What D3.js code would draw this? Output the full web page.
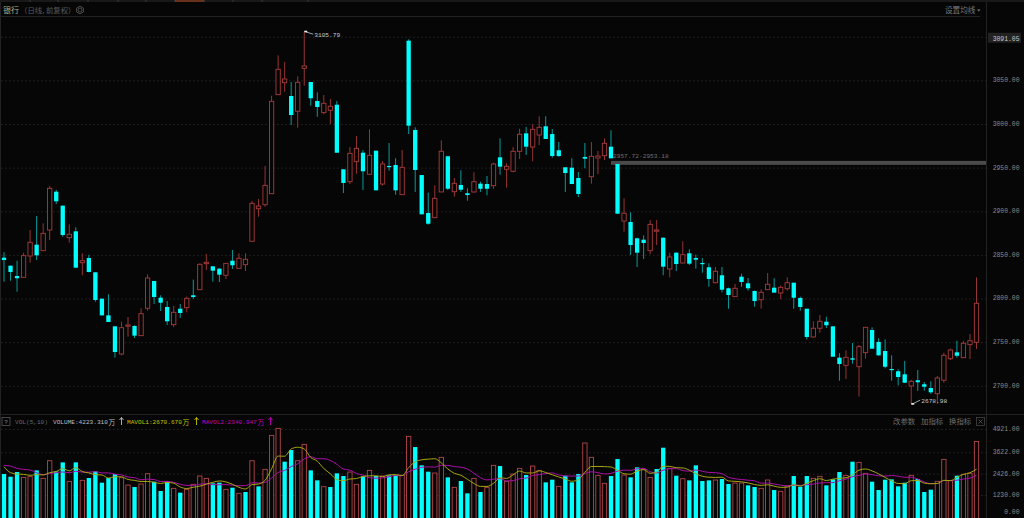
<!DOCTYPE html>
<html><head><meta charset="utf-8">
<script src="https://cdn.jsdelivr.net/npm/d3@7/dist/d3.min.js"></script>
<style>
html,body{margin:0;padding:0;background:#060606;overflow:hidden}
svg{display:block}
text{font-family:"Liberation Mono","DejaVu Sans Mono","Noto Sans CJK SC",monospace}
.cjk{font-family:"Noto Sans CJK SC",sans-serif}
</style></head><body>
<svg id="c" width="1024" height="518"></svg>
<script>
const opens=[2846.8,2837.6,2825.8,2824.3,2848.7,2861.7,2854.8,2878.5,2922.4,2906.4,2869.7,2877,2841,2846.4,2830,2799.8,2780.7,2768.1,2736.4,2768.8,2768.5,2757.4,2788.8,2820.1,2800.9,2790.3,2770,2788.3,2789.5,2803.7,2810.1,2839.9,2836.9,2834.2,2826.6,2843.3,2834.6,2838.7,2865.6,2902.9,2907.5,2920.1,3033.6,3047.3,3032.1,3014.6,3063.8,3048.1,3026.4,3013,3015.7,3022.1,2948.1,2933.9,2956.8,2967.1,2942.4,2969.4,2931.2,2951.9,2953,2919,3095.5,2993.1,2941.5,2898,2892.6,2922.1,2963,2922.4,2930.1,2920.6,2922.1,2931.6,2931.2,2929.3,2961.8,2948.1,2945.8,2968.7,2989.3,2973.6,2987.4,2997.4,2988.5,2969.9,2950.4,2949.9,2938.1,2962.2,2939.6,2961,2963.7,2974,2954.2,2888.8,2887.7,2869,2867.4,2854.8,2877.7,2869.7,2833.8,2852.5,2840.7,2851.8,2846.4,2840.7,2835.8,2818.1,2826.6,2811.7,2802.1,2825,2817.4,2808.6,2798.6,2810.1,2812.4,2806.3,2811.2,2818.1,2800.6,2788.3,2755.9,2765.9,2773.4,2768.1,2732.2,2723.4,2731.5,2721.8,2737.9,2763.9,2750.2,2739.8,2719.2,2716.6,2713.1,2699.7,2706.3,2701.7,2697.4,2690.9,2706.3,2731,2738.3,2732.2,2747.1,2749.8];
const highs=[2853,2837.6,2843.3,2852.5,2878.5,2894.6,2886.2,2928.9,2924.7,2906.4,2885,2881.6,2851.8,2849.9,2830,2799.8,2804.8,2768.1,2773.4,2778.8,2769.3,2788.8,2827.7,2820.1,2803.7,2797.1,2791.4,2793.7,2802.1,2821.6,2840.3,2851,2836.9,2834.6,2840.7,2855.6,2851.8,2851.8,2911.8,2914,2951.9,3032.4,3078.7,3071.1,3048.1,3054.7,3105.79,3048.1,3036.3,3033.2,3028.7,3026.4,2948.1,2973.6,2986.2,2970.2,2993.9,2969.4,2957.6,2978.2,2960.7,2970.2,3097.1,2996.2,2941.5,2921.3,2929.7,2981.3,2963,2938.1,2946.9,2926.3,2944.6,2933.9,2940.4,2955.6,2983.6,2955,2973.6,2994.6,2996.6,2999.7,3008.8,3008.8,2994.3,2979.4,2950.4,2960.7,2945,2978.2,2979.4,2969.1,2983.4,2992.8,2954.2,2914.8,2898.8,2869.7,2872.4,2890,2890,2869.7,2852.5,2853,2865.6,2856.4,2850.2,2846.4,2840.3,2836.1,2836.1,2812.4,2816.6,2828.4,2823.5,2809,2810.5,2829.2,2823.2,2815.1,2824.3,2818.1,2802.1,2788.3,2773.9,2781.1,2779.1,2768.1,2737.2,2740.6,2749,2746.7,2767.3,2767,2754.4,2753.2,2734.9,2718.9,2728.4,2706.9,2718.1,2704.3,2705.1,2711.2,2737.9,2742.5,2751.6,2751.3,2759.3,2824.3];
const lows=[2819.3,2820.4,2807.8,2824.3,2841,2844.1,2854.8,2867.1,2908.3,2870.8,2864,2835.3,2826.6,2830,2796.3,2780.3,2773.1,2732.2,2734.9,2756.2,2754.7,2757.4,2786,2793.7,2785.7,2769.6,2767.3,2777.7,2784.2,2799.4,2810.1,2832.7,2819.3,2818.9,2822.4,2833.8,2834.2,2831.5,2865.1,2893.8,2905.2,2920.1,3033.6,3037,2998.9,2995.8,3043.9,3021,3008.4,3011.1,3000,2967.1,2920.9,2931.2,2943,2924.4,2941.9,2924,2929.3,2946.5,2919,2919,2988.5,2922.1,2896.5,2884.6,2892.6,2922.1,2924.4,2916.7,2922.1,2912.1,2921.3,2922.1,2918.3,2925.8,2941.9,2927,2944.6,2959.9,2964.5,2957.3,2975.9,2982.8,2961.4,2962.2,2922.1,2931.2,2916.3,2949.2,2931.6,2942.7,2958.7,2960.7,2897.2,2876.6,2849.9,2836.1,2845.3,2850.7,2861.3,2826.6,2824.3,2831.5,2840.3,2838.4,2834.2,2829.6,2813.5,2817.4,2807.1,2788.3,2801.7,2813.5,2809,2790.6,2788.3,2809.7,2806.7,2799.1,2809,2788.3,2786,2753.2,2755.5,2760.8,2766.2,2733.3,2705.8,2707.7,2725.3,2687.5,2731,2742.1,2734.4,2720,2705.8,2700.5,2703.2,2678.98,2694,2694.3,2690.6,2679.4,2703.5,2729.5,2732.2,2732.2,2730.7,2742.1];
const closes=[2844.1,2830.4,2823.2,2849.1,2864.4,2849.5,2874.7,2926.3,2911.4,2872.8,2873.6,2835.3,2843.3,2830.4,2798.3,2780.7,2773.1,2738.7,2766.5,2769.6,2757.4,2782.6,2823.5,2801.7,2795.2,2773.9,2784.2,2783.4,2800.2,2801.7,2839.2,2841.5,2831.9,2827.3,2840.3,2838.1,2846.1,2844.9,2909.1,2906,2929.7,3026,3062.7,3051.6,3010.3,3047.8,3066.5,3029.5,3019.5,3023.7,3020.3,2967.1,2932.4,2966.4,2972.1,2945.8,2964.1,2924,2954.2,2950.7,2924,2950.4,2998.1,2947.3,2896.5,2885.7,2914.8,2968.7,2925.8,2932,2924.7,2918.6,2933.9,2925.8,2925.8,2954.2,2951.1,2951.5,2968.7,2988.2,2974,2993.9,2996.2,2982.8,2963.3,2963.3,2943.8,2931.2,2919.8,2960.2,2963,2963.3,2977.9,2960.7,2897.2,2897.7,2861.3,2852.5,2863.6,2885,2878.5,2836.5,2847.6,2839.5,2850.2,2839.9,2844.5,2839.9,2822.4,2831.2,2810.1,2804,2811.7,2818.9,2811.7,2797.1,2807.1,2816.3,2806.7,2812.8,2818.1,2800.9,2790.3,2755.9,2765.9,2773.9,2769.3,2733.3,2724.9,2732.6,2729.9,2744.8,2767,2742.5,2734.9,2721.8,2718.1,2710,2703.5,2705.1,2704,2698.9,2692.5,2708.9,2734.9,2741,2734.4,2748.7,2751.6,2794.5];
const volumes=[2403,2254,2515,2217,2254,2608,2161,3148,2552,3055,1993,3055,2049,2180,2552,1919,2180,2403,2198,1788,1677,1844,2422,1975,1453,1993,1602,1360,1546,1826,2291,2161,1882,1919,1546,1639,1323,1397,3148,1714,2664,4564,4956,3093,3745,3148,4061,2608,2049,1695,1677,2441,2291,2515,1826,2273,2608,2291,2291,2329,2347,2329,4508,3912,2888,2534,2459,3335,2217,1658,2012,1323,2161,1397,1658,2888,2850,1993,2403,2720,2347,2850,2590,1938,2087,1714,2310,1938,2403,4136,3335,2329,1882,2291,3242,2347,2217,2776,2664,2217,2683,3875,2720,2310,2142,2049,2888,2012,2049,2068,2124,1844,1900,1900,1770,1677,1602,2068,1509,1435,1733,2291,1695,2291,2161,2273,1770,2105,2515,2329,3093,3055,2441,1975,1509,2087,2105,1714,1919,2329,2124,1397,1528,1993,3223,2031,2310,2385,2441,4223.31];
const volumeColourFlips=[29,37,39,43,50,62,74,85,89,98,100,113];
const mavol1=[2813,2478,2403,2385,2329,2370,2351,2478,2545,2705,2582,2761,2541,2466,2366,2351,2176,2247,2250,2098,2049,1982,1986,1941,1874,1937,1889,1677,1591,1665,1725,1837,1941,2016,1960,1829,1662,1565,1811,1844,2049,2697,3409,3398,3804,3901,3801,3331,3122,2712,2418,2094,2031,2124,2150,2269,2303,2303,2258,2358,2373,2317,2761,3085,3197,3234,3260,3026,2687,2441,2336,2109,1874,1710,1710,1885,2191,2157,2358,2571,2463,2463,2582,2489,2362,2236,2128,1997,2090,2500,2824,2828,2817,2795,2616,2417,2394,2573,2648,2443,2510,2841,2830,2759,2744,2618,2420,2279,2226,2212,2227,2018,1995,1966,1906,1817,1768,1802,1724,1657,1668,1806,1731,1887,2033,2141,2036,2118,2163,2197,2361,2618,2685,2577,2413,2212,2022,1876,1865,2029,2037,1895,1858,1873,2051,2033,2215,2387,2476,2670.67];
const mavol2=[2888,2850,2720,2664,2627,2478,2366,2422,2478,2517,2476,2556,2509,2506,2535,2466,2468,2394,2358,2232,2200,2079,2116,2096,1986,1993,1936,1831,1766,1770,1831,1863,1809,1803,1813,1777,1749,1753,1913,1902,1939,2180,2487,2604,2824,2975,3249,3370,3260,3258,3160,2947,2681,2623,2431,2344,2198,2167,2191,2254,2321,2310,2532,2671,2778,2804,2789,2893,2886,2819,2785,2685,2450,2198,2075,2111,2150,2016,2034,2141,2174,2327,2370,2424,2467,2349,2295,2290,2290,2431,2530,2478,2407,2443,2558,2621,2611,2695,2721,2529,2463,2618,2702,2704,2594,2564,2631,2554,2493,2478,2422,2219,2137,2096,2059,2022,1893,1899,1845,1781,1742,1787,1766,1806,1845,1904,1921,1925,2025,2115,2251,2327,2402,2370,2305,2286,2320,2281,2221,2221,2124,1958,1867,1869,2040,2035,2055,2122,2175,2340.947];
const priceTicks=[3100,3050,3000,2950,2900,2850,2800,2750,2700];
const priceTickLabels=["3091.05","3050.00","3000.00","2950.00","2900.00","2850.00","2800.00","2750.00","2700.00"];
const volumeTicks=[4921,3622,2426,1230,0];
const gapBand=[2957.72,2953.18];
const tabEdges=[30,58,88,118,146,175,204,233,262,308];

const BG="#060606",RED="#a83c3c",RED_WICK="#963434",CYAN="#00ffff",CYAN_WICK="#089a9a";
const svg=d3.select("#c");
svg.append("rect").attr("width",1024).attr("height",518).attr("fill",BG);

const x=d3.scaleLinear().domain([0,149]).range([4,976.5]);
const yP=d3.scaleLinear().domain([2700,3000]).range([385.75,124]);
const yV=d3.scaleLinear().domain([0,4921]).range([517,429]);
const bodyW=4.3;
const SMALL=6.2;

// frame
const frame=svg.append("g").attr("stroke","#222").attr("stroke-width",1);
frame.append("line").attr("x1",0).attr("x2",1024).attr("y1",1).attr("y2",1).attr("stroke","#2c2c2c");
tabEdges.forEach(e=>frame.append("line").attr("x1",e).attr("x2",e).attr("y1",0).attr("y2",2).attr("stroke","#3a3a3a"));
svg.append("line").attr("x1",175).attr("x2",204).attr("y1",1).attr("y2",1).attr("stroke","#b5481f");
frame.append("line").attr("x1",0).attr("x2",980).attr("y1",16.5).attr("y2",16.5);
frame.append("line").attr("x1",986.5).attr("x2",986.5).attr("y1",2).attr("y2",518);
frame.append("line").attr("x1",0.5).attr("x2",0.5).attr("y1",2).attr("y2",518);
frame.append("line").attr("x1",0).attr("x2",1024).attr("y1",414.5).attr("y2",414.5);

function styleAxis(g){
  g.select(".domain").remove();
  g.selectAll(".tick line").attr("stroke","#2b2b2b").attr("stroke-dasharray","1.3,2.7");
  g.selectAll(".tick text").attr("fill","#8a8a8a").attr("font-size",SMALL+0.2).attr("text-anchor","end").attr("x",33).attr("dy","0.22em");
}
const priceAxis=d3.axisRight(yP).tickValues(priceTicks).tickSize(-986).tickFormat((d,i)=>priceTickLabels[i]);
const volAxis=d3.axisRight(yV).tickValues(volumeTicks).tickSize(-986).tickFormat(d=>d3.format(".2f")(d));

// price axis
svg.append("rect").attr("x",988).attr("y",yP(3100)-4).attr("width",33).attr("height",10).attr("fill","#222");
const gp=svg.append("g").attr("transform","translate(986.5,0)").call(priceAxis).call(styleAxis);
gp.selectAll(".tick").filter(d=>d===3100).select("text").attr("fill","#c8c8c8").attr("dy","0.55em");
const gv=svg.append("g").attr("transform","translate(986.5,0)").call(volAxis).call(styleAxis);
gv.selectAll(".tick").filter(d=>d===0).select("line").remove();
gv.selectAll(".tick").filter(d=>d===0).select("text").attr("dy","-0.6em");

// gap band
svg.append("rect").attr("x",x(93)).attr("width",986-x(93)).attr("y",yP(gapBand[0])).attr("height",yP(gapBand[1])-yP(gapBand[0])).attr("fill","#4a4a4a");
svg.append("text").attr("x",x(93)+2).attr("y",yP(gapBand[0])-3).attr("fill","#6f6f6f").attr("font-size",SMALL).text(gapBand[0].toFixed(2)+"-"+gapBand[1].toFixed(2));

// candles
const idx=d3.range(opens.length);
const cg=svg.append("g");
cg.selectAll("line").data(idx).join("line")
  .attr("x1",i=>x(i)).attr("x2",i=>x(i)).attr("y1",i=>yP(highs[i])).attr("y2",i=>yP(lows[i]))
  .attr("stroke",i=>closes[i]>opens[i]?RED_WICK:CYAN_WICK).attr("stroke-width",1);
cg.selectAll("rect").data(idx).join("rect")
  .attr("x",i=>x(i)-bodyW/2).attr("width",bodyW)
  .attr("y",i=>yP(Math.max(opens[i],closes[i])))
  .attr("height",i=>Math.max(1.2,Math.abs(yP(opens[i])-yP(closes[i]))))
  .attr("fill",i=>closes[i]>opens[i]?BG:CYAN)
  .attr("stroke",i=>closes[i]>opens[i]?RED:"none").attr("stroke-width",0.9);

// high/low marks
const hiI=highs.indexOf(d3.max(highs)),loI=lows.indexOf(d3.min(lows));
function mark(i,val,dx,dy){
  const px=x(i),py=yP(val);
  svg.append("path").attr("d",d3.line()([[px+1,py],[px+dx,py+dy]])).attr("stroke","#c8c8c8").attr("stroke-width",0.8).attr("fill","none");
  svg.append("rect").attr("x",px).attr("y",py-1).attr("width",3).attr("height",1.6).attr("fill","#eee");
  svg.append("text").attr("x",px+dx+1).attr("y",py+dy+2.5).attr("fill","#c8c8c8").attr("font-size",SMALL).text(val.toFixed(2));
}
mark(hiI,highs[hiI],9,2.5);
mark(loI,lows[loI],9,-4);

// volume bars
const isVolUp=i=>(closes[i]>opens[i])!==volumeColourFlips.includes(i);
const vg=svg.append("g");
vg.selectAll("rect").data(idx).join("rect")
  .attr("x",i=>x(i)-bodyW/2).attr("width",bodyW)
  .attr("y",i=>yV(volumes[i])).attr("height",i=>yV(0)-yV(volumes[i])+2)
  .attr("fill",i=>isVolUp(i)?BG:CYAN)
  .attr("stroke",i=>isVolUp(i)?"#b3464a":"none").attr("stroke-width",0.9);

// moving averages
const line=d3.line().x((d,i)=>x(i)).y(d=>yV(d)).curve(d3.curveMonotoneX);
svg.append("path").attr("d",line(mavol2)).attr("fill","none").attr("stroke","#a80fa8").attr("stroke-width",1);
svg.append("path").attr("d",line(mavol1)).attr("fill","none").attr("stroke","#a6a610").attr("stroke-width",1);

// header text
const t=(cx,cy,s,f,size,cls,anchor)=>svg.append("text").attr("x",cx).attr("y",cy).attr("fill",f).attr("font-size",size).attr("class",cls||null).attr("text-anchor",anchor||"start").text(s);
t(3,13,"银行","#b3b38c",8,"cjk");
t(20,13,"（日线, 前复权）","#5c5c5c",7.4,"cjk");
svg.append("circle").attr("cx",80).attr("cy",10).attr("r",2).attr("fill","none").attr("stroke","#5c5c5c").attr("stroke-width",0.8);
svg.append("path").attr("d",d3.line()(d3.range(7).map(k=>[80+3.9*Math.cos(k*Math.PI/3+Math.PI/6),10+3.9*Math.sin(k*Math.PI/3+Math.PI/6)]))).attr("fill","none").attr("stroke","#5c5c5c").attr("stroke-width",0.8);
t(945,13,"设置均线","#7a7a7a",7.6,"cjk");
svg.append("path").attr("d",d3.line()([[977,9.5],[980.5,9.5],[978.7,11.5]])).attr("fill","#7a7a7a");

// volume legend
svg.append("rect").attr("x",2).attr("y",417.5).attr("width",8).attr("height",8).attr("fill","none").attr("stroke","#555").attr("stroke-width",0.8);
t(6,424,"?","#888",6,null,"middle");
t(15,424,"VOL(5,10)","#666",6.1);
t(53,424,"VOLUME:4223.310","#bdbdbd",6.1);
t(108.5,424.5,"万","#bdbdbd",6.8,"cjk");
t(127,424,"MAVOL1:2670.670","#c4c400",6.1);
t(182.5,424.5,"万","#c4c400",6.8,"cjk");
t(202,424,"MAVOL2:2340.947","#c000c0",6.1);
t(257.5,424.5,"万","#c000c0",6.8,"cjk");
[[121.5,"#bdbdbd"],[196.5,"#c4c400"],[270.5,"#c000c0"]].forEach(([ax,c])=>{
  svg.append("path").attr("d",`M${ax},425V417.5M${ax-2},420L${ax},417.5L${ax+2},420`).attr("fill","none").attr("stroke",c).attr("stroke-width",0.9);
});
t(893,424,"改参数","#6f6f6f",7.4,"cjk");
t(921,424,"加指标","#6f6f6f",7.4,"cjk");
t(949,424,"换指标","#6f6f6f",7.4,"cjk");
svg.append("rect").attr("x",976.5).attr("y",417.5).attr("width",8).attr("height",8).attr("fill","none").attr("stroke","#444").attr("stroke-width",0.8);
svg.append("path").attr("d","M978.5,419.5L982.5,423.5M982.5,419.5L978.5,423.5").attr("stroke","#666").attr("stroke-width",0.7);
</script>
</body></html>
